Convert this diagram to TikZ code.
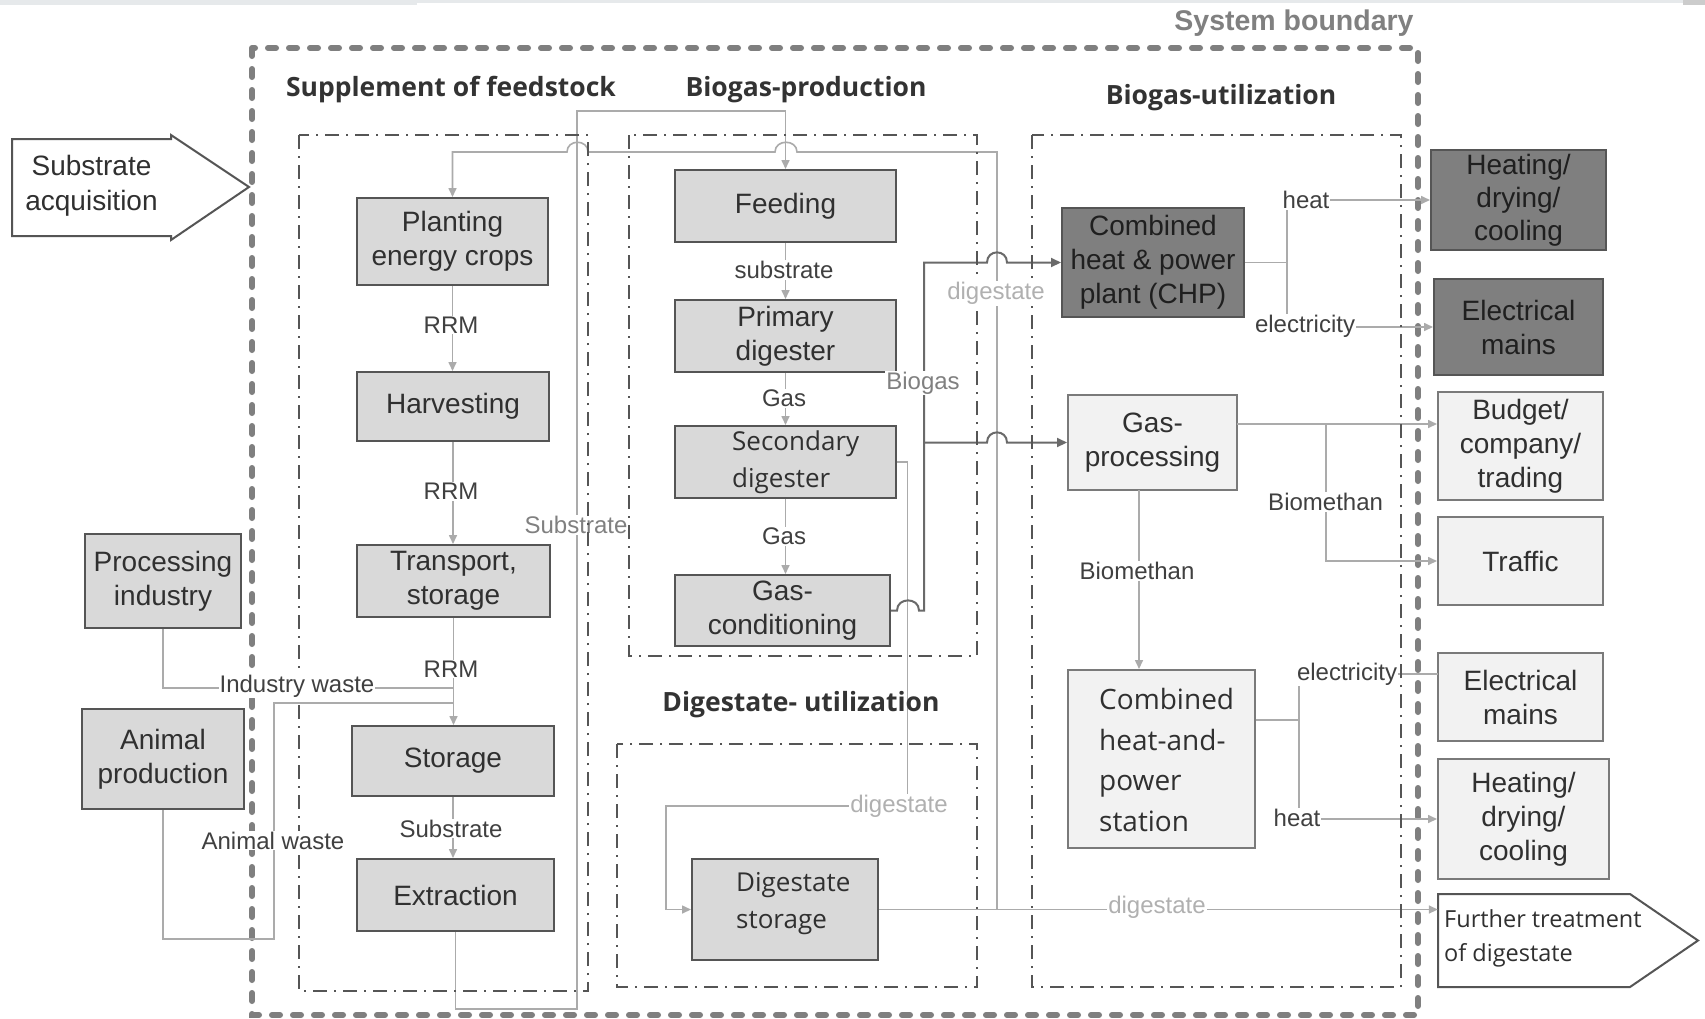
\documentclass[tikz,border=0pt]{standalone}
\usepackage{fontspec}
\setmainfont{Liberation Sans}
\newfontfamily\osans{Open Sans}
\usetikzlibrary{arrows.meta}
\definecolor{bordc}{HTML}{555555}
\definecolor{lfill}{HTML}{D9D9D9}
\definecolor{dfill}{HTML}{7F7F7F}
\definecolor{vfill}{HTML}{F2F2F2}
\definecolor{vbord}{HTML}{7A7A7A}
\definecolor{linec}{HTML}{ABABAB}
\definecolor{biogc}{HTML}{6A6A6A}
\definecolor{txtc}{HTML}{303030}
\definecolor{labc}{HTML}{404040}
\definecolor{digc}{HTML}{B0B0B0}
\definecolor{sysc}{HTML}{7F7F7F}
\definecolor{bandc}{HTML}{E6E9EB}
\begin{document}
\begin{tikzpicture}[x=1pt,y=-1pt,
  bx/.style={draw=bordc, line width=2pt, fill=lfill, text=txtc, align=center, inner sep=0pt, font=\fontsize{28}{34}\selectfont},
  dbx/.style={bx, fill=dfill, text=black!88},
  vbx/.style={bx, fill=vfill, draw=vbord},
  otxt/.style={align=left, inner sep=0pt, text=txtc, font=\osans\fontsize{26}{37}\selectfont},
  lab/.style={fill=white, inner sep=1pt, text=labc, font=\fontsize{24}{28}\selectfont},
  glab/.style={lab, text=black!50},
  dlab/.style={lab, text=digc},
  hdr/.style={inner sep=0pt, text=black!80, font=\osans\bfseries\fontsize{26.5}{30}\selectfont},
  conn/.style={draw=linec, line width=1.6pt},
  arr/.style={conn, -{Triangle[length=9pt,width=8pt]}},
  bconn/.style={draw=biogc, line width=2pt},
  barr/.style={bconn, -{Triangle[length=10pt,width=9pt]}},
  dashdot/.style={draw=bordc, line width=2.3pt, dash pattern=on 14pt off 7pt on 2pt off 7pt},
  sysb/.style={draw=sysc, line width=6pt, line cap=round, dash pattern=on 8pt off 13pt},
  shp/.style={draw=bordc, line width=2pt, fill=white}
]
\useasboundingbox (0,0) rectangle (1705,1018);
\fill[white] (0,0) rectangle (1705,1018);
\fill[bandc] (0,0) rectangle (417,5);
\fill[bandc] (417,0) rectangle (1683,2.5);
\fill[black!20] (1683,0) rectangle (1705,5);

% system boundary
\draw[sysb] (252,48) rectangle (1418,1015);
\node[inner sep=0pt, text=black!50, font=\bfseries\fontsize{28.5}{32}\selectfont] (hsys) at (1294,23) {System boundary};

% arrow shapes
\draw[shp] (12,139) -- (171,139) -- (171,135) -- (249,187) -- (171,240) -- (171,236) -- (12,236) -- cycle;
\node[align=center, inner sep=0pt, minimum width=159, minimum height=97, text=txtc, font=\fontsize{28}{35}\selectfont] (sacq) at (91.5,186) {Substrate\\acquisition};
\draw[shp] (1438,894) -- (1630,894) -- (1698,940.5) -- (1630,987) -- (1438,987) -- cycle;
\node[inner sep=0pt, minimum width=192, minimum height=93] (further) at (1534,940.5) {};
\node[otxt, anchor=west, font=\osans\fontsize{23.5}{34}\selectfont] (furthertxt) at (1444,938) {Further treatment\\of digestate};

% boxes
\node[bx, minimum width=191, minimum height=87] (plant) at (452.5,241.5) {Planting\\energy crops};
\node[bx, minimum width=192, minimum height=69] (harv) at (453,406.5) {Harvesting};
\node[bx, minimum width=193, minimum height=72] (trans) at (453.5,581) {Transport,\\storage};
\node[bx, minimum width=202, minimum height=70] (stor) at (453,761) {Storage};
\node[bx, minimum width=197, minimum height=72] (extr) at (455.5,895) {Extraction};
\node[bx, minimum width=156, minimum height=94] (proc) at (163,581) {Processing\\industry};
\node[bx, minimum width=162, minimum height=100] (anim) at (163,759) {Animal\\production};
\node[bx, minimum width=221, minimum height=72] (feed) at (785.5,206) {Feeding};
\node[bx, minimum width=221, minimum height=72] (prim) at (785.5,336) {Primary\\digester};
\node[bx, minimum width=221, minimum height=72] (sec) at (785.5,462) {};
\node[otxt, anchor=west] (sectxt) at (732,462) {Secondary\\digester};
\node[bx, minimum width=215, minimum height=71] (cond) at (782.5,610.5) {Gas-\\conditioning};
\node[bx, minimum width=186, minimum height=101] (dstor) at (785,909.5) {};
\node[otxt, anchor=west] (dstortxt) at (736,904) {Digestate\\storage};
\node[dbx, minimum width=182, minimum height=109] (chp) at (1153,262.5) {Combined\\heat \& power\\plant (CHP)};
\node[vbx, minimum width=169, minimum height=95] (gproc) at (1152.5,442.5) {Gas-\\processing};
\node[vbx, minimum width=187, minimum height=178] (chps) at (1161.5,759) {};
\node[otxt, anchor=west, font=\osans\fontsize{28}{40.7}\selectfont] (chpstxt) at (1099,760) {Combined\\heat-and-\\power\\station};
\node[dbx, minimum width=175, minimum height=100, font=\fontsize{28}{33}\selectfont] (heat1) at (1518.5,200) {Heating/\\drying/\\cooling};
\node[dbx, minimum width=169, minimum height=96] (elec1) at (1518.5,327) {Electrical\\mains};
\node[vbx, minimum width=165, minimum height=108] (budget) at (1520.5,446) {Budget/\\company/\\trading};
\node[vbx, minimum width=165, minimum height=88] (traffic) at (1520.5,561) {Traffic};
\node[vbx, minimum width=165, minimum height=88] (elec2) at (1520.5,697) {Electrical\\mains};
\node[vbx, minimum width=171, minimum height=120] (heat2) at (1523.5,819) {Heating/\\drying/\\cooling};

% coordinates
\coordinate (j1) at (453,688);
\coordinate (j2) at (453,703);
\coordinate (aw1) at (274,939);
\coordinate (s2) at (577,1009);
\coordinate (s3) at (577,110.7);
\coordinate (jd) at (997,909.5);
\coordinate (dg1) at (907.6,806);
\coordinate (dg2) at (666,909.5);
\coordinate (bg2) at (924,442.5);
\coordinate (c1) at (1287,262.5);
\coordinate (g1) at (1237,424);
\coordinate (g2) at (1326,424);
\coordinate (g3) at (1139,490);
\coordinate (h1) at (1299,720);
\coordinate (h2) at (1438,674);

% feedstock column
\draw[arr] (plant.south) -- (plant.south |- harv.north);
\draw[arr] (harv.south) -- (harv.south |- trans.north);
\draw[conn] (proc.south) |- (j1);
\draw[conn] (anim.south) |- (aw1) |- (j2);
\draw[arr] (trans.south) -- (trans.south |- stor.north);
\draw[arr] (stor.south) -- (stor.south |- extr.north);
\draw[arr] (extr.south) |- (s2) -- (s3) -| (feed.north);

% biogas production
\draw[arr] (feed.south) -- (feed.south |- prim.north);
\draw[arr] (prim.south) -- (prim.south |- sec.north);
\draw[arr] (sec.south) -- (sec.south |- cond.north);

% digestate
\draw[arr] (sec.east) -| (dg1) -| (dg2) -- (dstor.west);
\draw[arr] (dstor.east) -- (jd -| further.west);
\draw[arr] (jd) |- (797,152) .. controls (797,139) and (775,139) .. (775,152) -- (588,152) .. controls (588,139) and (567,139) .. (567,152) -| (plant.north);

% biogas
\draw[barr] (cond.east) -- (897,610.5) .. controls (897,597) and (919,597) .. (919,610.5) -| (924,262.5) -- (987,262.5) .. controls (987,249) and (1007,249) .. (1007,262.5) -- (chp.west);
\draw[barr] (bg2) -- (987,442.5) .. controls (987,429) and (1007,429) .. (1007,442.5) -- (gproc.west);

% utilization
\draw[conn] (chp.east) -- (c1);
\draw[arr] (c1) |- (heat1.west);
\draw[arr] (c1) |- (elec1.west);
\draw[arr] (g1) -- (g1 -| budget.west);
\draw[arr] (g2) |- (traffic.west);
\draw[arr] (g3) -- (g3 |- chps.north);
\draw[conn] (h1 -| chps.east) -- (h1);
\draw[conn] (h1) |- (h2);
\draw[arr] (h1) |- (heat2.west);

\node[glab] (lsub2) at (576,525) {Substrate};

% process boundaries
\draw[dashdot] (299,135) rectangle (588,991);
\draw[dashdot] (629,135) rectangle (977,656);
\draw[dashdot] (617,744) rectangle (977,987);
\draw[dashdot] (1032,135) rectangle (1401,987);

% labels
\node[lab] (lrrm1) at (451,325) {RRM};
\node[lab] (lrrm2) at (451,491.5) {RRM};
\node[lab] (lrrm3) at (451,669) {RRM};
\node[lab] (lsub1) at (451,828.6) {Substrate};
\node[lab] (lindw) at (297,686) {Industry waste};
\node[lab] (lanw) at (273,840.6) {Animal waste};
\node[lab] (lsub3) at (784,270) {substrate};
\node[lab] (lgas1) at (784,398) {Gas};
\node[lab] (lgas2) at (784,536) {Gas};
\node[glab] (lbiog) at (923,383) {Biogas};
\node[dlab] (ldig1) at (996,293.6) {digestate};
\node[dlab] (ldig2) at (899,806) {digestate};
\node[dlab] (ldig3) at (1157,907) {digestate};
\node[lab] (lheatA) at (1306,200) {heat};
\node[lab] (lelecA) at (1305,326) {electricity};
\node[lab] (lbiom1) at (1325.6,502) {Biomethan};
\node[lab] (lbiom2) at (1137,571) {Biomethan};
\node[lab] (lelecB) at (1347,674) {electricity};
\node[lab] (lheatB) at (1297,818) {heat};

% headers
\node[hdr] (hsupp) at (451,90) {Supplement of feedstock};
\node[hdr] (hprod) at (806,90) {Biogas-production};
\node[hdr] (hutil) at (1221,98) {Biogas-utilization};
\node[hdr] (hdig) at (801,705) {Digestate- utilization};
\end{tikzpicture}
\end{document}
